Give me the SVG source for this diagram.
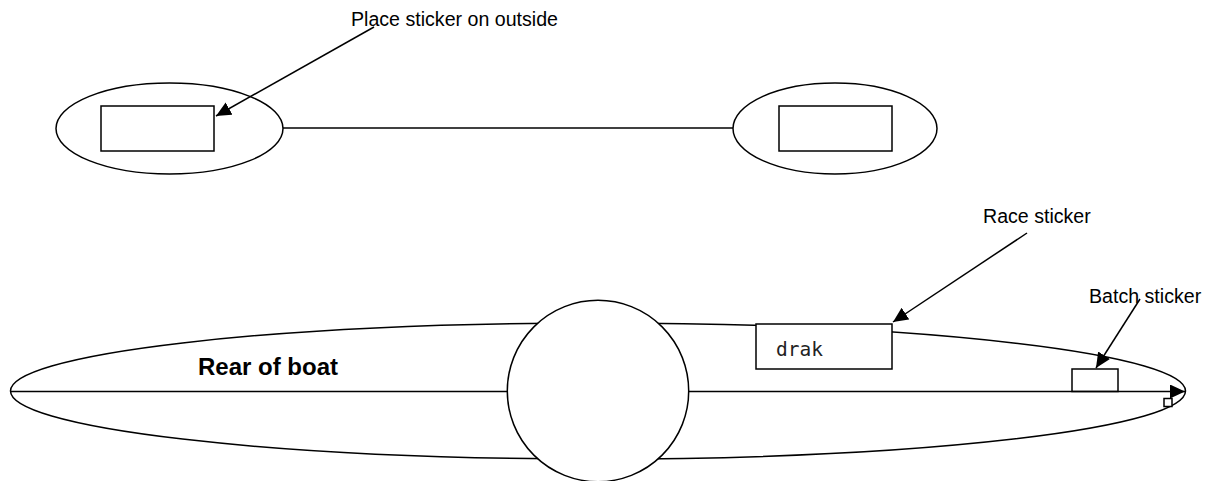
<svg xmlns="http://www.w3.org/2000/svg" width="1208" height="481" viewBox="0 0 1208 481">
<style>
.s{fill:none;stroke:#000;stroke-width:1.5}
.w{fill:#fff;stroke:#000;stroke-width:1.5}
.t{font-family:"Liberation Sans",Arial,sans-serif;font-size:19.6px;fill:#000}
.b{font-family:"Liberation Sans",Arial,sans-serif;font-size:24px;font-weight:bold;fill:#000}
.m{font-family:"DejaVu Sans Mono","Liberation Mono",monospace;font-size:19.5px;fill:#222}
</style>
<defs>
<marker id="ah" markerUnits="userSpaceOnUse" markerWidth="16" markerHeight="15" refX="15" refY="7" orient="auto">
<path d="M0,0 L15,7 L0,14 z" fill="#000"/>
</marker>
</defs>
<g id="boat">
<ellipse class="w" cx="598" cy="391" rx="587.5" ry="68"/>
</g>
<g id="left-end">
<ellipse class="w" cx="169.5" cy="128.5" rx="113.5" ry="45.5"/>
<rect class="w" x="101" y="106" width="113" height="45"/>
</g>
<g id="right-end">
<ellipse class="w" cx="835" cy="128.5" rx="102" ry="45.5"/>
<rect class="w" x="779" y="106" width="113" height="45"/>
</g>
<g id="hub">
<circle class="w" cx="598" cy="391" r="90.7"/>
</g>
<g id="race-sticker">
<rect class="w" x="756" y="324" width="136" height="45"/>
<text class="m" x="776" y="356">drak</text>
</g>
<g id="batch-sticker">
<rect class="w" x="1072" y="369" width="46" height="22.5"/>
</g>
<g id="tip-mark">
<rect class="w" x="1164" y="398.5" width="8" height="8"/>
</g>
<g id="connectors">
<line class="s" x1="283" y1="128" x2="733" y2="128"/>
<line class="s" x1="374" y1="27" x2="216" y2="116" marker-end="url(#ah)"/>
<line class="s" x1="11" y1="391.5" x2="507.5" y2="391.5"/>
<line class="s" x1="688.7" y1="391.5" x2="1185" y2="391.5" marker-end="url(#ah)"/>
<line class="s" x1="1027" y1="233" x2="893" y2="322" marker-end="url(#ah)"/>
<line class="s" x1="1140" y1="299" x2="1096" y2="368" marker-end="url(#ah)"/>
</g>
<g id="labels">
<text class="t" x="351" y="26">Place sticker on outside</text>
<text class="t" x="983" y="222.5">Race sticker</text>
<text class="t" x="1089" y="303">Batch sticker</text>
<text class="b" x="198" y="375">Rear of boat</text>
</g>
</svg>
